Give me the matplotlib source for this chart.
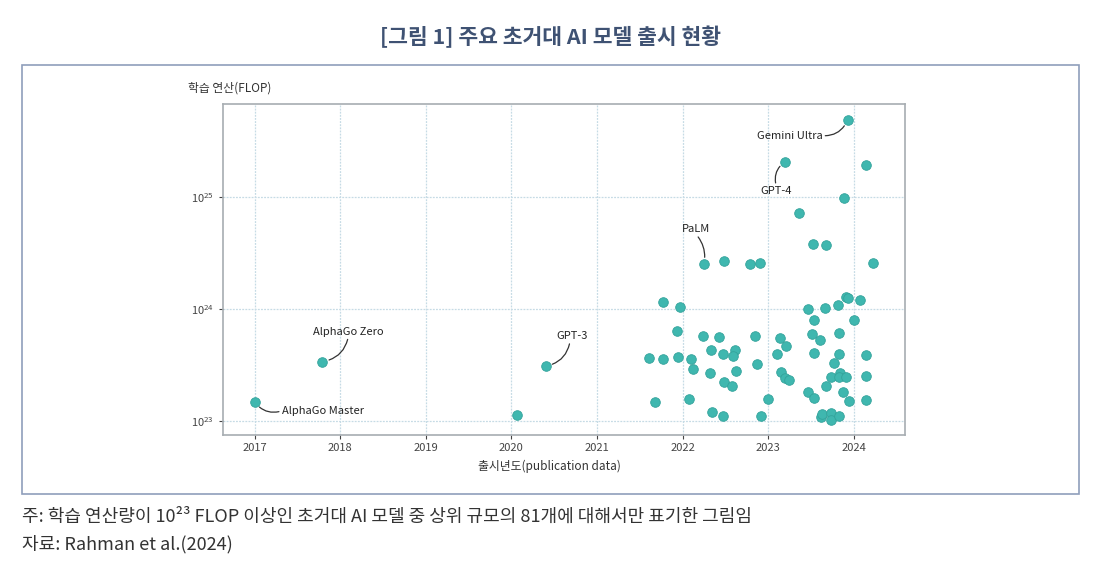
import numpy as np
import matplotlib.pyplot as plt
import matplotlib.patches as patches
from matplotlib.ticker import LogLocator, NullLocator

plt.rcParams['font.family'] = ['Noto Sans CJK KR', 'DejaVu Sans']

# release year (decimal) and log10 of training compute (FLOP)
years = [2017.00, 2017.79, 2020.07, 2020.40,
         2023.93, 2023.20, 2024.15, 2023.89, 2023.36, 2023.52, 2023.68,
         2022.25, 2022.49, 2022.79, 2022.90, 2024.23,
         2021.77, 2021.97, 2023.47, 2023.67, 2023.82, 2023.91, 2023.93, 2024.07,
         2023.54, 2024.01, 2021.93, 2022.24, 2022.43, 2022.85, 2023.14, 2023.51,
         2023.61, 2023.83, 2023.21, 2022.33, 2022.47, 2022.61, 2022.59, 2023.10,
         2023.54, 2023.83, 2024.15, 2021.61, 2021.77, 2021.95, 2022.10, 2023.77,
         2022.12, 2022.87, 2022.32, 2022.62, 2023.15, 2023.20, 2023.24, 2023.73,
         2023.84, 2023.83, 2023.91, 2024.14, 2022.48, 2022.58, 2023.68, 2023.47,
         2023.87, 2023.54, 2023.95, 2024.15, 2021.68, 2022.08, 2023.00, 2022.35,
         2022.47, 2022.92, 2023.62, 2023.63, 2023.74, 2023.74, 2023.83]
log_flop = [23.17, 23.53, 23.05, 23.49,
            25.69, 25.315, 25.29, 24.99, 24.86, 24.58, 24.57,
            24.40, 24.43, 24.40, 24.41, 24.41,
            24.06, 24.015, 24.00, 24.006, 24.04, 24.11, 24.095, 24.08,
            23.905, 23.90, 23.80, 23.76, 23.75, 23.76, 23.74, 23.78,
            23.72, 23.79, 23.67, 23.63, 23.60, 23.63, 23.58, 23.60,
            23.61, 23.595, 23.59, 23.565, 23.55, 23.57, 23.55, 23.52,
            23.46, 23.51, 23.43, 23.45, 23.44, 23.38, 23.37, 23.395,
            23.43, 23.39, 23.39, 23.40, 23.345, 23.31, 23.31, 23.26,
            23.26, 23.205, 23.18, 23.19, 23.17, 23.20, 23.20, 23.08,
            23.045, 23.045, 23.04, 23.065, 23.07, 23.01, 23.045]

# labelled models: name, index into the arrays above
label_names = ['AlphaGo Master', 'AlphaGo Zero', 'GPT-3', 'Gemini Ultra', 'GPT-4', 'PaLM']
label_idx = [0, 1, 3, 4, 5, 11]
label_offsets = [(68, -9), (26, 30), (26, 30), (-58, -16), (-9, -29), (-8, 35)]
label_relpos = [(0, 0.5), (0.5, 0), (0.45, 0), (1, 0.5), (0.5, 1), (0.5, 0)]
label_rad = [-0.35, -0.35, -0.35, 0.35, -0.35, -0.25]

year_ticks = [2017, 2018, 2019, 2020, 2021, 2022, 2023, 2024]

flop = 10 ** np.array(log_flop)

fig = plt.figure(figsize=(11.02, 5.62), dpi=100)
ax = fig.add_axes([0.2024, 0.2260, 0.6188, 0.5889])

ax.scatter(years, flop, s=48, color='#3fb7af', edgecolor='#33a39b', linewidth=0.6, zorder=3)

ax.set_yscale('log')
ax.set_xlim(2016.63, 2024.6)
ax.set_ylim(10 ** 22.875, 10 ** 25.83)
ax.set_xticks(year_ticks)
ax.set_xticklabels([str(y) for y in year_ticks])
ax.yaxis.set_major_locator(LogLocator(base=10, numticks=10))
ax.yaxis.set_minor_locator(NullLocator())

ax.grid(True, color='#c6dbe5', linestyle=(0, (1.5, 1)), linewidth=0.9, zorder=0)
for s in ax.spines.values():
    s.set_color('#a7adb2')
    s.set_linewidth(1.2)
ax.tick_params(labelsize=8, colors='#444444', length=3, width=0.8)
ax.tick_params(axis='x', pad=3)

for name, i, off, rp, rad in zip(label_names, label_idx, label_offsets, label_relpos, label_rad):
    ax.annotate(name, (years[i], flop[i]), xytext=off, textcoords='offset pixels',
                ha='center', va='center', fontsize=8, color='#222222',
                arrowprops=dict(arrowstyle='-', color='#333333', lw=0.9,
                                shrinkA=0, shrinkB=5, relpos=rp,
                                connectionstyle='arc3,rad=%s' % rad))

fig.text(188 / 1102, 1 - 88 / 562, '학습 연산(FLOP)', fontsize=8.5, color='#333333',
         ha='left', va='center')
fig.text(549 / 1102, 1 - 466 / 562, '출시년도(publication data)', fontsize=8.5,
         color='#333333', ha='center', va='center')

fig.text(551 / 1102, 1 - 37 / 562, '[그림 1] 주요 초거대 AI 모델 출시 현황', fontsize=15.5,
         fontweight='bold', color='#3f5273', ha='center', va='center')

fig.patches.append(patches.Rectangle((22 / 1102, 1 - 494 / 562), 1057 / 1102, 429 / 562,
                                     transform=fig.transFigure, fill=False,
                                     edgecolor='#8f9ebb', linewidth=1.2))

fig.text(22 / 1102, 1 - 517 / 562,
         '주: 학습 연산량이 10²³ FLOP 이상인 초거대 AI 모델 중 상위 규모의 81개에 대해서만 표기한 그림임',
         fontsize=13, color='#333333', ha='left', va='center')
fig.text(22 / 1102, 1 - 544 / 562, '자료: Rahman et al.(2024)', fontsize=13,
         color='#333333', ha='left', va='center')

fig.savefig('out.png', dpi=100)
